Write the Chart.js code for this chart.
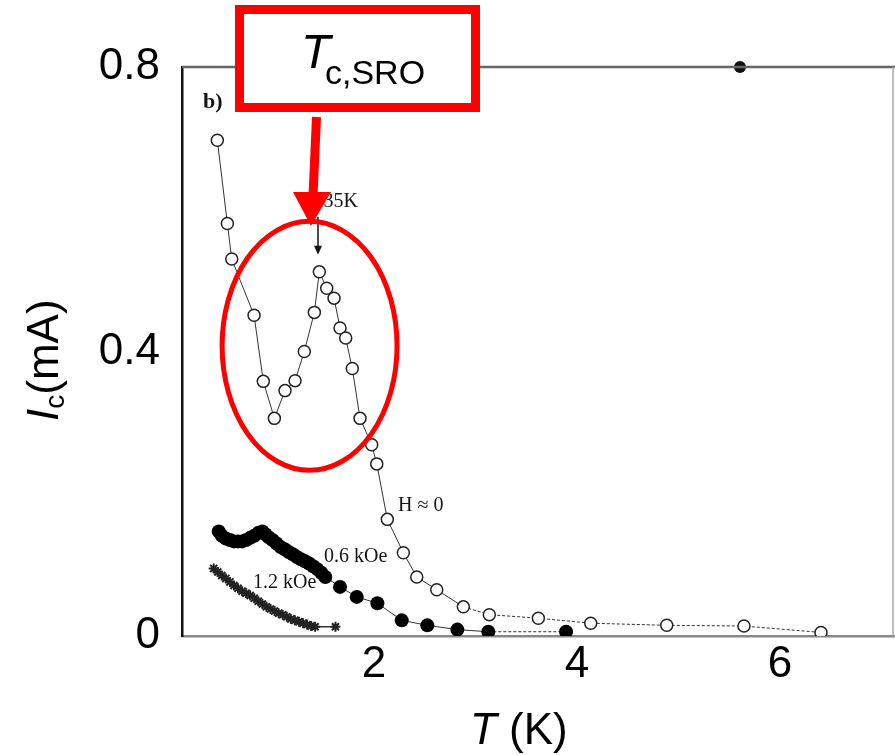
<!DOCTYPE html>
<html>
<head>
<meta charset="utf-8">
<title>Ic vs T</title>
<script src="https://cdn.jsdelivr.net/npm/chart.js@4"></script>
<style>
  html, body { margin: 0; padding: 0; background: #fff; }
  #chart1 { display: block; }
</style>
</head>
<body>
<canvas id="chart1" width="895" height="755"></canvas>
<script>
// H = 0 (open circles)
const tempH0 = [0.456, 0.555, 0.598, 0.818, 0.909, 1.018, 1.123, 1.222, 1.313, 1.412, 1.461, 1.534, 1.606,
  1.665, 1.721, 1.786, 1.862, 1.977, 2.027, 2.131, 2.289, 2.421, 2.618, 2.880, 3.136, 3.619, 4.135, 4.884, 5.645, 6.404];
const icH0 = [0.697, 0.580, 0.530, 0.451, 0.358, 0.306, 0.345, 0.359, 0.400, 0.455, 0.512, 0.489, 0.475,
  0.433, 0.419, 0.376, 0.306, 0.269, 0.242, 0.164, 0.117, 0.083, 0.065, 0.041, 0.030, 0.025, 0.018, 0.015, 0.014, 0.005];

// 0.6 kOe (filled circles)
const temp06 = [0.47, 0.50, 0.54, 0.58, 0.62, 0.66, 0.70, 0.74, 0.78, 0.82, 0.86, 0.90, 0.93, 0.96, 1.00, 1.04,
  1.08, 1.12, 1.16, 1.20, 1.24, 1.28, 1.32, 1.36, 1.40, 1.44, 1.48, 1.52, 1.665, 1.83, 2.033, 2.273, 2.525, 2.821, 3.126, 3.892];
const ic06 = [0.147, 0.141, 0.137, 0.135, 0.133, 0.133, 0.133, 0.135, 0.138, 0.141, 0.145, 0.147, 0.143, 0.139, 0.135, 0.130,
  0.125, 0.122, 0.118, 0.115, 0.111, 0.108, 0.105, 0.102, 0.098, 0.094, 0.089, 0.083, 0.069, 0.055, 0.046, 0.022, 0.015, 0.009, 0.006, 0.006];

// 1.2 kOe (stars)
const temp12 = [0.42, 0.46, 0.50, 0.54, 0.58, 0.62, 0.66, 0.70, 0.74, 0.78, 0.82, 0.86, 0.90, 0.94, 0.98, 1.02,
  1.06, 1.10, 1.14, 1.18, 1.22, 1.26, 1.30, 1.34, 1.38, 1.42, 1.62];
const ic12 = [0.095, 0.090, 0.085, 0.081, 0.076, 0.071, 0.067, 0.063, 0.060, 0.057, 0.053, 0.049, 0.045, 0.041, 0.038, 0.035,
  0.032, 0.030, 0.027, 0.024, 0.022, 0.020, 0.018, 0.016, 0.014, 0.013, 0.013];

// stray dot on the top frame of the scanned figure
const tempTop = [5.606];
const icTop = [0.8];

const xTicks = [2, 4, 6];
const yTicks = [0, 0.4, 0.8];

function toPoints(xs, ys) {
  return xs.map((v, i) => ({ x: v, y: ys[i] }));
}

const annotations = {
  id: 'annotations',
  afterDraw(chart) {
    const ctx = chart.ctx;
    const sx = chart.scales.x, sy = chart.scales.y;
    const area = chart.chartArea;
    const px = v => sx.getPixelForValue(v);
    const py = v => sy.getPixelForValue(v);
    ctx.save();

    // top and right frame of the scanned plot
    ctx.strokeStyle = '#666';
    ctx.lineWidth = 2.5;
    ctx.beginPath();
    ctx.moveTo(area.left, area.top);
    ctx.lineTo(area.right, area.top);
    ctx.stroke();
    ctx.strokeStyle = '#aaa';
    ctx.lineWidth = 1.5;
    ctx.beginPath();
    ctx.moveTo(area.right - 2, area.top);
    ctx.lineTo(area.right - 2, area.bottom);
    ctx.stroke();

    // labels from the original figure
    ctx.fillStyle = '#151515';
    ctx.textBaseline = 'alphabetic';
    ctx.font = 'bold 22px "Liberation Serif"';
    ctx.textAlign = 'left';
    ctx.fillText('b)', px(0.315), py(0.742));
    ctx.font = '20px "Liberation Serif"';
    ctx.textAlign = 'right';
    ctx.fillText('1.35K', px(1.842), py(0.603));
    ctx.textAlign = 'left';
    ctx.fillText('H \u2248 0', px(2.236), py(0.176));
    ctx.fillText('0.6 kOe', px(1.507), py(0.104));
    ctx.fillText('1.2 kOe', px(0.808), py(0.0675));

    // black arrow at 1.35 K
    const ax = px(1.448), ay0 = py(0.589), ay1 = py(0.536);
    ctx.strokeStyle = '#111';
    ctx.lineWidth = 1.5;
    ctx.beginPath();
    ctx.moveTo(ax, ay0);
    ctx.lineTo(ax, ay1 - 4);
    ctx.stroke();
    ctx.beginPath();
    ctx.moveTo(ax - 4, ay1 - 9);
    ctx.lineTo(ax + 4, ay1 - 9);
    ctx.lineTo(ax, ay1);
    ctx.closePath();
    ctx.fill();

    // red ellipse round the peak
    const cx = px(1.365), cy = py(0.408);
    const rx = px(1.365 + 0.862) - cx, ry = cy - py(0.408 + 0.175);
    ctx.strokeStyle = '#ff0000';
    ctx.lineWidth = 5;
    ctx.beginPath();
    ctx.ellipse(cx, cy, rx, ry, 0, 0, Math.PI * 2);
    ctx.stroke();

    // red callout box
    ctx.fillStyle = '#fff';
    ctx.fillRect(239.5, 9.5, 236, 98);
    ctx.lineWidth = 9;
    ctx.strokeRect(239.5, 9.5, 236, 98);
    ctx.fillStyle = '#000';
    ctx.textAlign = 'left';
    ctx.font = 'italic 48px "Liberation Sans"';
    ctx.fillText('T', 301, 68);
    ctx.font = '34px "Liberation Sans"';
    ctx.fillText('c,SRO', 325, 84);

    // red arrow down to the ellipse
    ctx.strokeStyle = '#ff0000';
    ctx.fillStyle = '#ff0000';
    ctx.lineWidth = 9;
    ctx.beginPath();
    ctx.moveTo(316.5, 117);
    ctx.lineTo(313, 196);
    ctx.stroke();
    ctx.beginPath();
    ctx.moveTo(293, 192);
    ctx.lineTo(331, 192);
    ctx.lineTo(311, 226);
    ctx.closePath();
    ctx.fill();

    // axis titles
    ctx.fillStyle = '#000';
    ctx.save();
    ctx.translate(58, 421);
    ctx.rotate(-Math.PI / 2);
    ctx.textAlign = 'left';
    ctx.font = 'italic 44px "Liberation Sans"';
    ctx.fillText('I', 0, 0);
    let w = ctx.measureText('I').width;
    ctx.font = '28px "Liberation Sans"';
    ctx.fillText('c', w, 6);
    w += ctx.measureText('c').width;
    ctx.font = '44px "Liberation Sans"';
    ctx.fillText('(mA)', w, 0);
    ctx.restore();

    ctx.textAlign = 'left';
    ctx.font = 'italic 44px "Liberation Sans"';
    ctx.fillText('T', 470, 744);
    const tw = ctx.measureText('T').width;
    ctx.font = '44px "Liberation Sans"';
    ctx.fillText(' (K)', 470 + tw, 744);

    ctx.restore();
  }
};

const tickFont = { family: '"Liberation Sans", Arial, sans-serif', size: 44 };

new Chart(document.getElementById('chart1'), {
  type: 'scatter',
  data: {
    datasets: [
      {
        label: 'H = 0',
        data: toPoints(tempH0, icH0),
        showLine: true,
        borderColor: '#333',
        borderWidth: 1,
        segment: { borderDash: c => c.p0.parsed.x > 2.7 ? [3, 2] : undefined },
        pointStyle: 'circle',
        pointRadius: 6,
        pointBorderWidth: 1.5,
        pointBorderColor: '#222',
        pointBackgroundColor: '#fff',
        order: 0
      },
      {
        label: '0.6 kOe',
        data: toPoints(temp06, ic06),
        showLine: true,
        borderColor: '#333',
        borderWidth: 1,
        segment: { borderDash: c => c.p0.parsed.x > 3 ? [3, 2] : undefined },
        pointStyle: 'circle',
        pointRadius: 7,
        pointBorderWidth: 0,
        pointBackgroundColor: '#000',
        order: 1
      },
      {
        label: '1.2 kOe',
        data: toPoints(temp12, ic12),
        showLine: true,
        borderColor: '#333',
        borderWidth: 1.5,
        pointStyle: 'star',
        pointRadius: 5,
        pointBorderWidth: 2,
        pointBorderColor: '#222',
        order: 2
      },
      {
        label: 'mark',
        data: toPoints(tempTop, icTop),
        showLine: false,
        pointRadius: 6,
        pointBorderWidth: 0,
        pointBackgroundColor: '#111',
        clip: false,
        order: 3
      }
    ]
  },
  options: {
    responsive: false,
    animation: false,
    layout: { autoPadding: false, padding: { top: 67, right: 0, left: 0, bottom: 0 } },
    plugins: {
      legend: { display: false },
      tooltip: { enabled: false }
    },
    scales: {
      x: {
        type: 'linear',
        min: 0.108,
        max: 7.133,
        afterFit: s => { s.height = 119; },
        afterBuildTicks: s => { s.ticks = xTicks.map(v => ({ value: v })); },
        grid: { display: true, drawOnChartArea: false, drawTicks: false },
        border: { display: true, color: '#888', width: 2.5 },
        ticks: { font: tickFont, color: '#000', padding: 2, maxRotation: 0 }
      },
      y: {
        type: 'linear',
        min: 0,
        max: 0.8,
        afterFit: s => { s.width = 182; },
        afterBuildTicks: s => { s.ticks = yTicks.map(v => ({ value: v })); },
        grid: { display: true, drawOnChartArea: false, drawTicks: false },
        border: { display: true, color: '#111', width: 2.5 },
        ticks: { font: tickFont, color: '#000', padding: 22 }
      }
    }
  },
  plugins: [annotations]
});
</script>
</body>
</html>
